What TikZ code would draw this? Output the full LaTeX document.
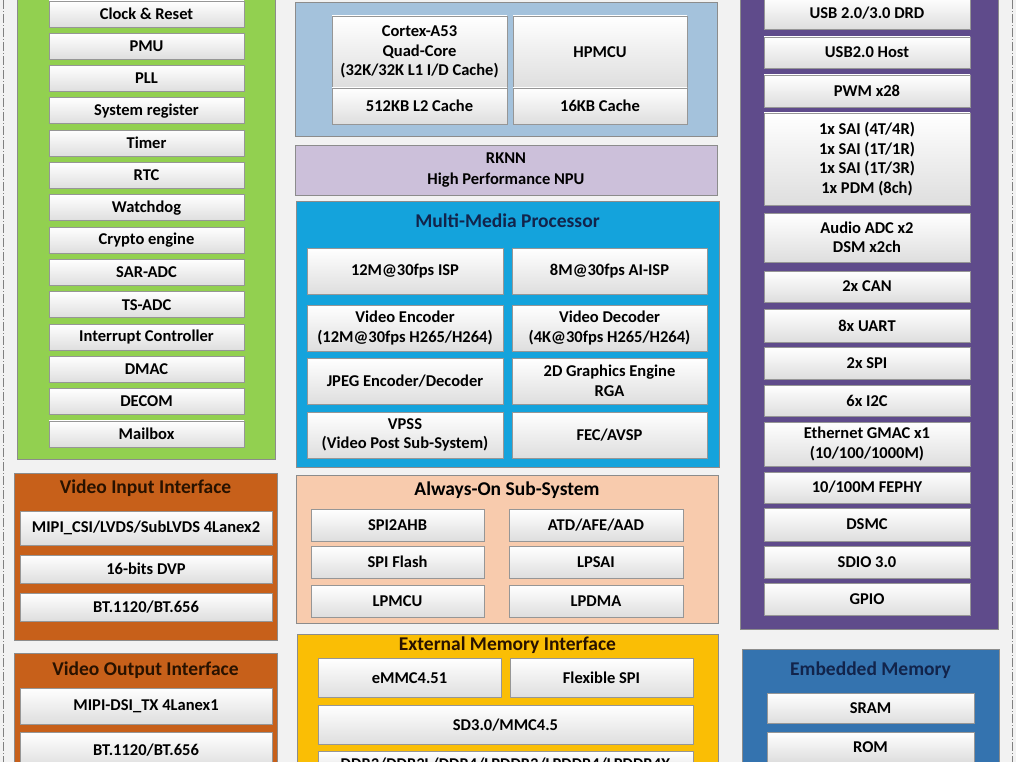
\documentclass[tikz,border=0pt]{standalone}
\usepackage{fontspec}
\setmainfont{Carlito}
\usetikzlibrary{positioning}

\definecolor{bgcol}{RGB}{242,242,242}
\definecolor{sysgreen}{RGB}{146,208,80}
\definecolor{vidorange}{RGB}{199,96,26}
\definecolor{cpublue}{RGB}{164,194,220}
\definecolor{npulav}{RGB}{204,192,218}
\definecolor{mmpblue}{RGB}{20,163,220}
\definecolor{aonpeach}{RGB}{248,203,173}
\definecolor{emigold}{RGB}{250,190,5}
\definecolor{iopurple}{RGB}{95,75,139}
\definecolor{embblue}{RGB}{52,115,175}
\definecolor{navytext}{RGB}{18,36,75}
\definecolor{browntext}{RGB}{40,18,0}
\definecolor{boxline}{RGB}{150,150,150}
\definecolor{boxshade}{RGB}{222,222,222}

\tikzset{
    blk/.style={draw=boxline, line width=0.8pt, top color=white, bottom color=boxshade,
        font=\bfseries\fontsize{16.5}{19.5}\selectfont, align=center, inner sep=0pt},
    panel/.style={draw=black!45, line width=0.8pt, inner sep=0pt, anchor=north west},
    ttl/.style={font=\bfseries\fontsize{19.5}{22}\selectfont},
    sep/.style={gray, line width=0.8pt, dash pattern=on 9pt off 2pt on 1pt off 2pt}
}

\begin{document}
\begin{tikzpicture}[x=1pt, y=-1pt]
    \clip (0,0) rectangle (1016,762);
    \fill[bgcol] (0,0) rectangle (1016,762);
    \draw[sep] (3,0) -- (3,762);
    \draw[sep] (1012,0) -- (1012,762);

    % system blocks
    \node[panel, fill=sysgreen, minimum width=258pt, minimum height=470pt] (sys) at (17,-11) {};
    \foreach \t [count=\i from 0] in {Clock \& Reset, PMU, PLL, System register, Timer, RTC, Watchdog,
        Crypto engine, SAR-ADC, TS-ADC, Interrupt Controller, DMAC, DECOM, Mailbox}
        \node[blk, minimum width=195pt, minimum height=26pt] (sys\i) at (146.5, {14+32.3*\i}) {\t};

    % video in / out
    \node[panel, fill=vidorange, minimum width=263pt, minimum height=167pt] (vin) at (14,473) {};
    \node[ttl, text=browntext] (vintitle) at (145.5,488) {Video Input Interface};
    \node[blk, minimum width=252pt, minimum height=34pt] (vin1) at (146,528) {MIPI\_CSI/LVDS/SubLVDS 4Lanex2};
    \node[blk, minimum width=252pt, minimum height=28pt] (vin2) at (146,569) {16-bits DVP};
    \node[blk, minimum width=252pt, minimum height=28pt] (vin3) at (146,607) {BT.1120/BT.656};

    \node[panel, fill=vidorange, minimum width=263pt, minimum height=130pt] (vout) at (14,653) {};
    \node[ttl, text=browntext] (vouttitle) at (145.5,670) {Video Output Interface};
    \node[blk, minimum width=252pt, minimum height=36pt] (vout1) at (146,706) {MIPI-DSI\_TX 4Lanex1};
    \node[blk, minimum width=252pt, minimum height=36pt] (vout2) at (146,750) {BT.1120/BT.656};

    % cpu
    \node[panel, fill=cpublue, minimum width=422pt, minimum height=134pt] (cpu) at (295,2) {};
    \node[blk, minimum width=175pt, minimum height=72pt] (a53) at (419.5,52) {Cortex-A53\\Quad-Core\\(32K/32K L1 I/D Cache)};
    \node[blk, minimum width=175pt, minimum height=36pt] (l2) at (419.5,106) {512KB L2 Cache};
    \node[blk, minimum width=174pt, minimum height=72pt] (hpmcu) at (600,52) {HPMCU};
    \node[blk, minimum width=174pt, minimum height=36pt] (hpcache) at (600,106) {16KB Cache};

    % npu
    \node[draw=black!45, line width=0.8pt, fill=npulav, minimum width=422pt, minimum height=50pt,
        font=\bfseries\fontsize{16.5}{21}\selectfont, align=center] (npu) at (506,170) {RKNN\\High Performance NPU};

    % multi-media
    \node[panel, fill=mmpblue, minimum width=423pt, minimum height=266pt] (mmp) at (296,201) {};
    \node[ttl, text=navytext] (mmptitle) at (507.5,221) {Multi-Media Processor};
    \node[blk, minimum width=196pt, minimum height=46pt] (isp) at (405,271) {12M@30fps ISP};
    \node[blk, minimum width=195pt, minimum height=46pt] (aiisp) at (609.5,271) {8M@30fps AI-ISP};
    \node[blk, minimum width=196pt, minimum height=46pt] (venc) at (405,328) {Video Encoder\\(12M@30fps H265/H264)};
    \node[blk, minimum width=195pt, minimum height=46pt] (vdec) at (609.5,328) {Video Decoder\\(4K@30fps H265/H264)};
    \node[blk, minimum width=196pt, minimum height=46pt] (jpeg) at (405,381) {JPEG Encoder/Decoder};
    \node[blk, minimum width=195pt, minimum height=46pt] (rga) at (609.5,381) {2D Graphics Engine\\RGA};
    \node[blk, minimum width=196pt, minimum height=46pt] (vpss) at (405,435) {VPSS\\(Video Post Sub-System)};
    \node[blk, minimum width=195pt, minimum height=46pt] (fec) at (609.5,435) {FEC/AVSP};

    % always-on
    \node[panel, fill=aonpeach, minimum width=422pt, minimum height=148pt] (aon) at (296,475) {};
    \node[ttl] (aontitle) at (507,490) {Always-On Sub-System};
    \node[blk, minimum width=173pt, minimum height=32pt] (spiahb) at (397.5,525) {SPI2AHB};
    \node[blk, minimum width=174pt, minimum height=32pt] (atd) at (596,525) {ATD/AFE/AAD};
    \node[blk, minimum width=173pt, minimum height=32pt] (spiflash) at (397.5,562) {SPI Flash};
    \node[blk, minimum width=174pt, minimum height=32pt] (lpsai) at (596,562) {LPSAI};
    \node[blk, minimum width=173pt, minimum height=32pt] (lpmcu) at (397.5,601) {LPMCU};
    \node[blk, minimum width=174pt, minimum height=32pt] (lpdma) at (596,601) {LPDMA};

    % external memory
    \node[panel, fill=emigold, minimum width=421pt, minimum height=200pt] (emi) at (297,634) {};
    \node[ttl, text=browntext] (emititle) at (507.5,645) {External Memory Interface};
    \node[blk, minimum width=183pt, minimum height=39pt] (emmc) at (409.5,678) {eMMC4.51};
    \node[blk, minimum width=183pt, minimum height=39pt] (fspi) at (601.5,678) {Flexible SPI};
    \node[blk, minimum width=375pt, minimum height=39pt] (sd) at (505.5,725) {SD3.0/MMC4.5};
    \node[blk, minimum width=375pt, minimum height=26pt] (ddr) at (505.5,764) {DDR3/DDR3L/DDR4/LPDDR3/LPDDR4/LPDDR4X};

    % peripherals
    \node[panel, fill=iopurple, minimum width=258pt, minimum height=639pt] (io) at (740,-10) {};
    \node[blk, minimum width=206pt, minimum height=32pt] (usb3) at (867,13) {USB 2.0/3.0 DRD};
    \node[blk, minimum width=206pt, minimum height=31pt] (usb2) at (867,52.5) {USB2.0 Host};
    \node[blk, minimum width=206pt, minimum height=32pt] (pwm) at (867,91) {PWM x28};
    \node[blk, minimum width=206pt, minimum height=92pt] (sai) at (867,159) {1x SAI (4T/4R)\\1x SAI (1T/1R)\\1x SAI (1T/3R)\\1x PDM (8ch)};
    \node[blk, minimum width=206pt, minimum height=49pt] (adc) at (867,237.5) {Audio ADC x2\\DSM x2ch};
    \node[blk, minimum width=206pt, minimum height=31pt] (can) at (867,286.5) {2x CAN};
    \node[blk, minimum width=206pt, minimum height=33pt] (uart) at (867,325.5) {8x UART};
    \node[blk, minimum width=206pt, minimum height=32pt] (spi) at (867,363) {2x SPI};
    \node[blk, minimum width=206pt, minimum height=31pt] (iic) at (867,400.5) {6x I2C};
    \node[blk, minimum width=206pt, minimum height=44pt] (eth) at (867,444) {Ethernet GMAC x1\\(10/100/1000M)};
    \node[blk, minimum width=206pt, minimum height=31pt] (fephy) at (867,487.5) {10/100M FEPHY};
    \node[blk, minimum width=206pt, minimum height=33pt] (dsmc) at (867,524.5) {DSMC};
    \node[blk, minimum width=206pt, minimum height=32pt] (sdio) at (867,562) {SDIO 3.0};
    \node[blk, minimum width=206pt, minimum height=32pt] (gpio) at (867,599) {GPIO};

    % embedded memory
    \node[panel, fill=embblue, minimum width=257pt, minimum height=130pt] (emb) at (742,649) {};
    \node[ttl, text=navytext] (embtitle) at (870.5,670) {Embedded Memory};
    \node[blk, minimum width=207pt, minimum height=30pt] (sram) at (870.5,708) {SRAM};
    \node[blk, minimum width=207pt, minimum height=30pt] (rom) at (870.5,747) {ROM};
\end{tikzpicture}
\end{document}
